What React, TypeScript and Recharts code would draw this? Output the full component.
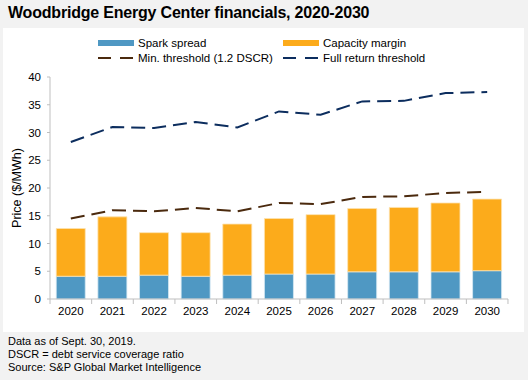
import { ComposedChart, Bar, Line, XAxis, YAxis } from 'recharts';

const years = ['2020', '2021', '2022', '2023', '2024', '2025', '2026', '2027', '2028', '2029', '2030'];
const sparkSpread = [4.1, 4.1, 4.3, 4.1, 4.3, 4.5, 4.5, 4.9, 4.9, 4.9, 5.1];
const capacityMargin = [8.6, 10.7, 7.65, 7.85, 9.2, 10.0, 10.7, 11.4, 11.6, 12.4, 12.9];
const minThreshold = [14.5, 16.0, 15.8, 16.4, 15.8, 17.3, 17.1, 18.4, 18.5, 19.1, 19.3];
const fullReturn = [28.3, 31.0, 30.8, 31.9, 30.9, 33.8, 33.2, 35.6, 35.7, 37.1, 37.3];
const yTicks = [0, 5, 10, 15, 20, 25, 30, 35, 40];

const data = years.map((year, i) => ({
  year,
  spark: sparkSpread[i],
  capacity: capacityMargin[i],
  min: minThreshold[i],
  full: fullReturn[i],
}));

const FONT = '"Liberation Sans", Arial, sans-serif';
const BLUE = '#4f98c3';
const ORANGE = '#fcab1b';
const BROWN = '#4b2a0e';
const NAVY = '#0c2d5e';
const HALF_BAND = 20.8;

function YearTick(props: any) {
  const { x, y, payload, index } = props;
  const axisY = y - 8;
  return (
    <g>
      <line x1={x - HALF_BAND} x2={x - HALF_BAND} y1={axisY} y2={axisY + 5} stroke="#bfbfbf" />
      {index === years.length - 1 && (
        <line x1={x + HALF_BAND} x2={x + HALF_BAND} y1={axisY} y2={axisY + 5} stroke="#bfbfbf" />
      )}
      <text x={x} y={y} dy="0.71em" textAnchor="middle" fontSize={11.5} fill="#000" fontFamily={FONT}>
        {payload.value}
      </text>
    </g>
  );
}

function LegendItem({ label, color, dashed }: { label: string; color: string; dashed?: boolean }) {
  return (
    <div style={{ display: 'flex', alignItems: 'center', height: 15 }}>
      <svg width={36} height={10} style={{ marginRight: 4 }}>
        {dashed ? (
          <line x1={0} x2={36} y1={5} y2={5} stroke={color} strokeWidth={2} strokeDasharray="13 9" />
        ) : (
          <rect x={0} y={2} width={36} height={6} fill={color} />
        )}
      </svg>
      <span>{label}</span>
    </div>
  );
}

export default function App() {
  return (
    <div style={{ position: 'relative', width: 528, height: 380, background: '#f2f2f2', fontFamily: FONT }}>
      <style>{'body{margin:0}'}</style>
      <div style={{ position: 'absolute', left: 8, top: 4, fontSize: 16, fontWeight: 'bold', color: '#000', letterSpacing: -0.2 }}>
        Woodbridge Energy Center financials, 2020-2030
      </div>
      <div style={{ position: 'absolute', left: 3, top: 28, width: 521, height: 304, background: '#fff' }}>
        <div style={{ position: 'absolute', left: 95, top: 7, display: 'grid', gridTemplateColumns: '185px 200px', fontSize: 11.5, color: '#000' }}>
          <LegendItem label="Spark spread" color={BLUE} />
          <LegendItem label="Capacity margin" color={ORANGE} />
          <LegendItem label="Min. threshold (1.2 DSCR)" color={BROWN} dashed />
          <LegendItem label="Full return threshold" color={NAVY} dashed />
        </div>
        <ComposedChart width={521} height={304} data={data} margin={{ top: 49, right: 16, bottom: 8, left: 0 }} barCategoryGap="15%">
          <XAxis
            dataKey="year"
            tick={<YearTick />}
            tickLine={false}
            tickSize={0}
            tickMargin={8}
            height={25}
            axisLine={{ stroke: '#bfbfbf' }}
            interval={0}
          />
          <YAxis
            width={47}
            domain={[0, 40]}
            ticks={yTicks}
            tickSize={3}
            tickMargin={6}
            tickLine={{ stroke: '#bfbfbf' }}
            axisLine={{ stroke: '#bfbfbf' }}
            tick={{ fontSize: 11.5, fill: '#000', fontFamily: FONT }}
            label={{ value: 'Price ($/MWh)', angle: -90, position: 'insideLeft', offset: 14, fontSize: 12.5, fill: '#000', style: { textAnchor: 'middle' } }}
          />
          <Bar dataKey="spark" stackId="a" fill={BLUE} stroke="#d6e8f2" strokeWidth={0.8} isAnimationActive={false} />
          <Bar dataKey="capacity" stackId="a" fill={ORANGE} stroke="#fde2b0" strokeWidth={0.8} isAnimationActive={false} />
          <Line dataKey="min" stroke={BROWN} strokeWidth={2} strokeDasharray="14 7" dot={false} isAnimationActive={false} />
          <Line dataKey="full" stroke={NAVY} strokeWidth={2} strokeDasharray="14 7" dot={false} isAnimationActive={false} />
        </ComposedChart>
      </div>
      <div style={{ position: 'absolute', left: 8, top: 335, fontSize: 11, lineHeight: '13px', color: '#000' }}>
        <div>Data as of Sept. 30, 2019.</div>
        <div>DSCR = debt service coverage ratio</div>
        <div>Source: S&amp;P Global Market Intelligence</div>
      </div>
    </div>
  );
}
